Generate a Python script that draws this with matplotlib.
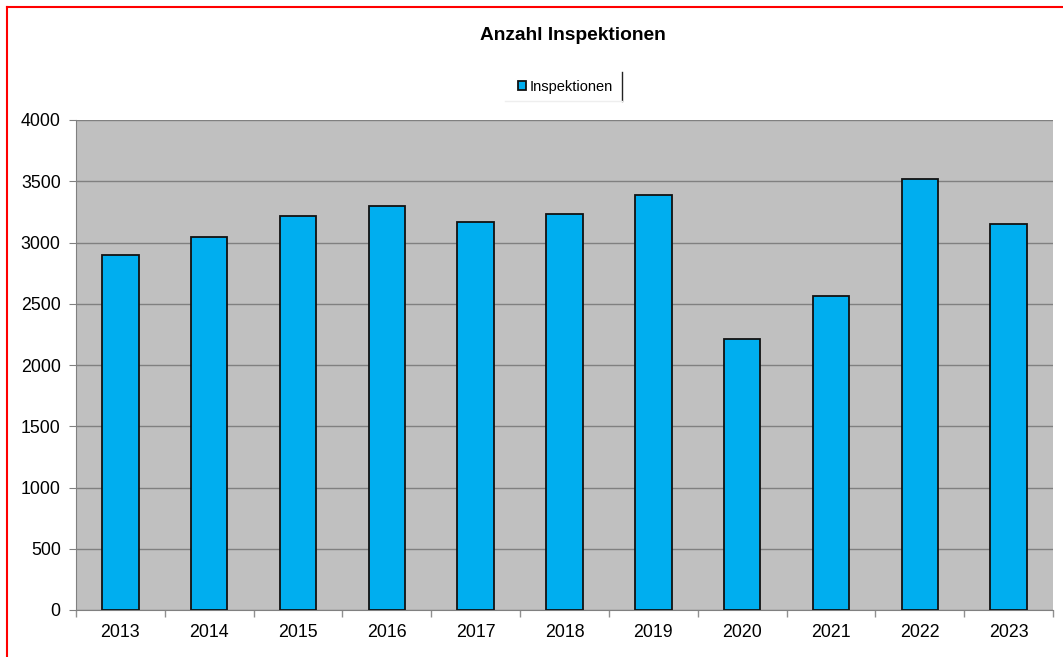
import matplotlib
matplotlib.use("Agg")
import matplotlib.pyplot as plt
from matplotlib.lines import Line2D
import numpy as np

years = ["2013", "2014", "2015", "2016", "2017", "2018", "2019", "2020", "2021", "2022", "2023"]
inspektionen = [2900, 3045, 3215, 3295, 3170, 3235, 3390, 2210, 2565, 3520, 3155]
yticks = [0, 500, 1000, 1500, 2000, 2500, 3000, 3500, 4000]

plt.rcParams['font.family'] = ['Liberation Sans', 'DejaVu Sans']

fig = plt.figure(figsize=(10.63, 6.57), dpi=100)
ax = fig.add_axes([76/1063, 47/657, (1053-76)/1063, (610-120)/657])
ax.set_facecolor('#c0c0c0')

x = np.arange(len(years))
ax.bar(x, inspektionen, width=0.41, color='#00aeef', edgecolor='#111111',
       linewidth=1.3, zorder=3, label='Inspektionen')

ax.set_xlim(-0.5, len(years) - 0.5)
ax.set_ylim(0, 4000)
ax.set_yticks(yticks)
ax.set_yticklabels([str(v) for v in yticks], fontsize=12.8)
ax.yaxis.grid(True, color='#808080', linewidth=1.0, zorder=1)

ax.set_xticks(x)
ax.set_xticklabels(years, fontsize=12.8)
ax.tick_params(axis='x', length=0, pad=10)
ax.set_xticks(np.arange(-0.5, len(years), 1.0), minor=True)
ax.tick_params(axis='x', which='minor', length=5, color='#909090', width=1)
ax.tick_params(axis='y', length=5, color='#808080', pad=6)

ax.spines['top'].set_visible(False)
ax.spines['right'].set_visible(False)
ax.spines['left'].set_color('#808080')
ax.spines['bottom'].set_color('#808080')

fig.text(573/1063, 1 - 35/657, "Anzahl Inspektionen", ha='center', va='center',
         fontsize=13.8, fontweight='bold')

leg = ax.legend(loc='center', bbox_to_anchor=(565/1063, 1 - 87/657),
                bbox_transform=fig.transFigure, frameon=False, fontsize=10.5,
                handlelength=0.6, handleheight=0.6, handletextpad=0.2,
                borderaxespad=0)

# legend right edge line
fig.add_artist(Line2D([622/1063, 622/1063], [1 - 72/657, 1 - 101/657],
                      color='#222222', linewidth=1, transform=fig.transFigure))
fig.add_artist(Line2D([505/1063, 622/1063], [1 - 101/657, 1 - 101/657],
                      color='#eeeeee', linewidth=1, transform=fig.transFigure))

# red border (left and top)
fig.add_artist(Line2D([7/1063, 7/1063], [0, 1 - 7/657], color='#ff0000',
                      linewidth=1.5, transform=fig.transFigure))
fig.add_artist(Line2D([7/1063, 1], [1 - 7/657, 1 - 7/657], color='#ff0000',
                      linewidth=1.5, transform=fig.transFigure))

fig.savefig("out.png", dpi=100)
